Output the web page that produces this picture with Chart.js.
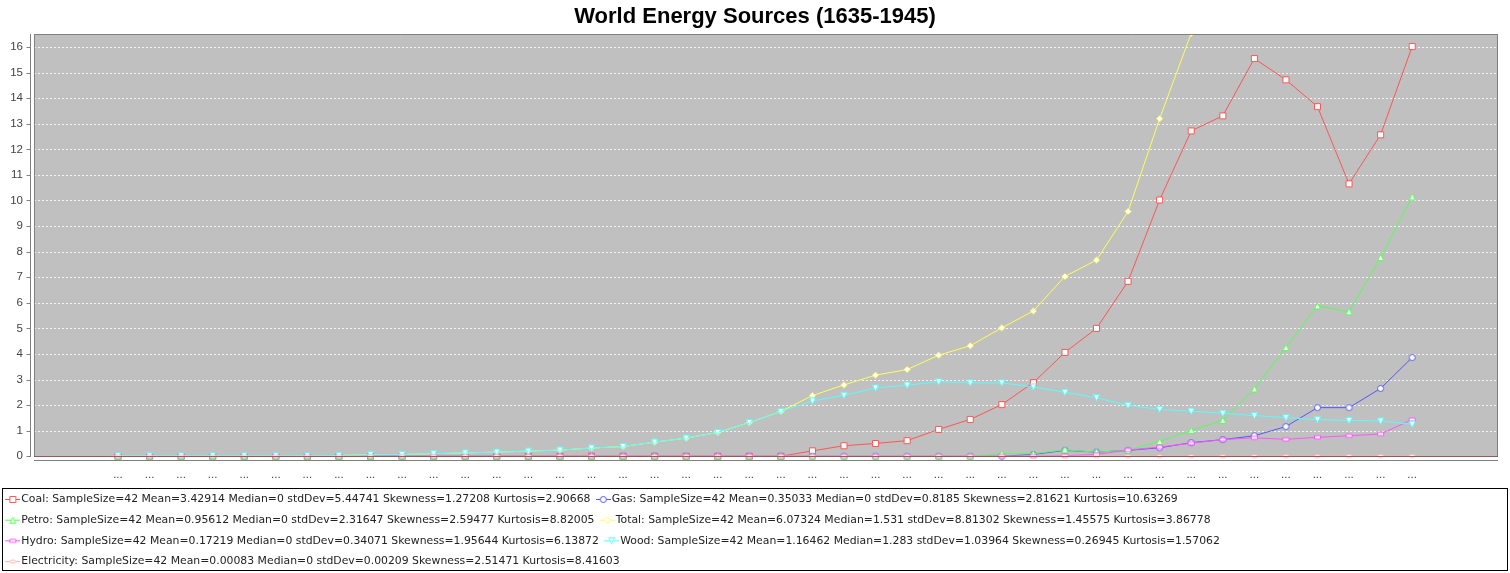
<!DOCTYPE html>
<html>
<head>
<meta charset="utf-8">
<script src="https://cdn.jsdelivr.net/npm/chart.js@4.4.1/dist/chart.umd.min.js"></script>
<style>
html,body{margin:0;padding:0;background:#fff;}
#wrap{width:1510px;height:573px;}
</style>
</head>
<body>
<div id="wrap"><canvas id="c" width="1510" height="573"></canvas></div>
<script>
// ---- data ----
const categories = ['...','...','...','...','...','...','...','...','...','...','...','...','...','...',
  '...','...','...','...','...','...','...','...','...','...','...','...','...','...',
  '...','...','...','...','...','...','...','...','...','...','...','...','...','...'];

const coal = [0,0,0,0,0,0,0,0,0,0,0,0,0,0,0,0,0,0,0,0,0,0,
  0.21,0.41,0.5,0.61,1.05,1.44,2.02,2.88,4.06,5.0,6.84,10.02,12.72,13.31,15.55,14.72,13.67,10.65,12.57,16.02];
const gas = [0,0,0,0,0,0,0,0,0,0,0,0,0,0,0,0,0,0,0,0,0,0,0,0,0,0,0,0,0,
  0.07,0.23,0.16,0.23,0.33,0.53,0.65,0.8,1.16,1.9,1.9,2.65,3.86];
const petro = [0,0,0,0,0,0,0,0,0,0,0,0,0,0,0,0,0,0,0,0,0,0,0,0,0,0,0,0,
  0.1,0.1,0.25,0.16,0.23,0.58,1.01,1.4,2.63,4.25,5.88,5.65,7.77,10.14];
const total = [0.02,0.02,0.02,0.02,0.02,0.02,0.02,0.03,
  0.06,0.07,0.1,0.13,0.16,0.2,0.24,0.32,0.38,0.55,0.71,0.93,1.316,
  1.75,2.37,2.79,3.17,3.39,3.95,4.32,5.02,5.68,7.03,7.67,9.57,13.2,16.53,17.69,21.29,22.3,23.62,20.4,25.24,32.7];
const hydro = [0,0,0,0,0,0,0,0,0,0,0,0,0,0,0,0,0,0,0,0,0,0,0,0,0,0,0,0,0,0,
  0.02,0.07,0.24,0.36,0.51,0.65,0.72,0.66,0.74,0.8,0.87,1.43];
const wood = [0.02,0.02,0.02,0.02,0.02,0.02,0.02,0.03,
  0.06,0.07,0.1,0.13,0.16,0.2,0.24,0.32,0.38,0.55,0.71,0.93,1.316,
  1.75,2.16,2.38,2.67,2.78,2.91,2.87,2.87,2.71,2.5,2.29,1.99,1.83,1.76,1.68,1.59,1.51,1.43,1.4,1.38,1.25];
const electricity = [0,0,0,0,0,0,0,0,0,0,0,0,0,0,0,0,0,0,0,0,0,0,0,0,0,0,0,0,0,0,0,0,0,
  0.0005,0.001,0.0015,0.002,0.003,0.004,0.005,0.007,0.011];

const seriesNames = ['Coal','Gas','Petro','Total','Hydro','Wood','Electricity'];
const legendTexts = [
  'Coal: SampleSize=42 Mean=3.42914 Median=0 stdDev=5.44741 Skewness=1.27208 Kurtosis=2.90668',
  'Gas: SampleSize=42 Mean=0.35033 Median=0 stdDev=0.8185 Skewness=2.81621 Kurtosis=10.63269',
  'Petro: SampleSize=42 Mean=0.95612 Median=0 stdDev=2.31647 Skewness=2.59477 Kurtosis=8.82005',
  'Total: SampleSize=42 Mean=6.07324 Median=1.531 stdDev=8.81302 Skewness=1.45575 Kurtosis=3.86778',
  'Hydro: SampleSize=42 Mean=0.17219 Median=0 stdDev=0.34071 Skewness=1.95644 Kurtosis=6.13872',
  'Wood: SampleSize=42 Mean=1.16462 Median=1.283 stdDev=1.03964 Skewness=0.26945 Kurtosis=1.57062',
  'Electricity: SampleSize=42 Mean=0.00083 Median=0 stdDev=0.00209 Skewness=2.51471 Kurtosis=8.41603'
];
const yTicks = [0,1,2,3,4,5,6,7,8,9,10,11,12,13,14,15,16];
const chartTitle = 'World Energy Sources (1635-1945)';

// ---- styles ----
const seriesValues = [coal, gas, petro, total, hydro, wood, electricity];
const colors = ['#ff5555','#5555ff','#55ff55','#ffff55','#ff55ff','#55ffff','#ffafaf'];
const shapes = ['square','circle','triUp','diamond','hrect','triDown','hellipse'];

function makeMarker(shape, color, withLine) {
  const w = withLine ? 15 : 9, h = 9;
  const c = document.createElement('canvas');
  c.width = w; c.height = h;
  const g = c.getContext('2d');
  const cx = w / 2, cy = h / 2;
  if (withLine) {
    g.strokeStyle = color; g.lineWidth = 1;
    g.beginPath(); g.moveTo(0, cy); g.lineTo(w, cy); g.stroke();
  }
  g.beginPath();
  switch (shape) {
    case 'square': g.rect(cx - 3, cy - 3, 6, 6); break;
    case 'circle': g.arc(cx, cy, 3, 0, Math.PI * 2); break;
    case 'triUp': g.moveTo(cx, cy - 3); g.lineTo(cx + 3, cy + 3); g.lineTo(cx - 3, cy + 3); g.closePath(); break;
    case 'diamond': g.moveTo(cx, cy - 3); g.lineTo(cx + 3, cy); g.lineTo(cx, cy + 3); g.lineTo(cx - 3, cy); g.closePath(); break;
    case 'hrect': g.rect(cx - 3, cy - 1.5, 6, 3); break;
    case 'triDown': g.moveTo(cx - 3, cy - 3); g.lineTo(cx + 3, cy - 3); g.lineTo(cx, cy + 3); g.closePath(); break;
    case 'hellipse': g.ellipse(cx, cy, 3, 1.5, 0, 0, Math.PI * 2); break;
  }
  g.fillStyle = '#ffffff'; g.fill();
  g.strokeStyle = color; g.lineWidth = 1; g.stroke();
  return c;
}
const pointImgs = shapes.map((s, i) => makeMarker(s, colors[i], false));
const legendImgs = shapes.map((s, i) => makeMarker(s, colors[i], true));

const datasets = seriesNames.map((name, i) => ({
  label: legendTexts[i],
  data: seriesValues[i].map((v, j) => ({x: j, y: v})),
  borderColor: colors[i],
  backgroundColor: colors[i],
  borderWidth: 1,
  pointStyle: pointImgs[i],
  pointRadius: 3.5,
  pointHoverRadius: 3.5,
  tension: 0,
  order: seriesNames.length - 1 - i,
  clip: {left: 8, right: 8, top: 0, bottom: 8}
}));

const tickFont = {family: 'Liberation Sans', size: 11.5};

const decoPlugin = {
  id: 'deco',
  beforeDraw(chart) {
    const {ctx, chartArea: a} = chart;
    ctx.save();
    ctx.fillStyle = '#ffffff';
    ctx.fillRect(0, 0, chart.width, chart.height);
    ctx.fillStyle = '#c0c0c0';
    ctx.fillRect(a.left, a.top, a.right - a.left, a.bottom - a.top);
    const ys = chart.scales.y;
    ctx.strokeStyle = 'rgba(255,255,255,0.8)';
    ctx.lineWidth = 1;
    ctx.setLineDash([2, 2]);
    yTicks.forEach(v => {
      const py = Math.round(ys.getPixelForValue(v)) + 0.5;
      if (py < a.top || py > a.bottom) return;
      ctx.beginPath(); ctx.moveTo(a.left, py); ctx.lineTo(a.right, py); ctx.stroke();
    });
    ctx.restore();
  },
  afterDatasetsDraw(chart) {
    const {ctx, chartArea: a} = chart;
    const ys = chart.scales.y;
    ctx.save();
    ctx.lineWidth = 1;
    ctx.strokeStyle = '#808080';
    ctx.beginPath();
    ctx.moveTo(a.left + 0.5, a.bottom); ctx.lineTo(a.left + 0.5, a.top + 0.5);
    ctx.lineTo(a.right - 0.5, a.top + 0.5); ctx.lineTo(a.right - 0.5, a.bottom);
    ctx.stroke();
    ctx.strokeStyle = '#965a5a';
    ctx.beginPath(); ctx.moveTo(a.left, a.bottom - 0.5); ctx.lineTo(a.right, a.bottom - 0.5); ctx.stroke();
    // range axis line + tick marks
    ctx.strokeStyle = '#808080';
    const ax = a.left - 3.5;
    ctx.beginPath(); ctx.moveTo(ax, a.top); ctx.lineTo(ax, a.bottom); ctx.stroke();
    yTicks.forEach(v => {
      const py = Math.round(ys.getPixelForValue(v)) + 0.5;
      ctx.beginPath(); ctx.moveTo(ax - 4, py); ctx.lineTo(ax, py); ctx.stroke();
    });
    // category axis line
    const ay = a.bottom + 3.5;
    ctx.beginPath(); ctx.moveTo(a.left, ay); ctx.lineTo(a.right, ay); ctx.stroke();
    ctx.restore();
  },
  afterDraw(chart) {
    const {ctx} = chart;
    const lg = chart.legend;
    ctx.save();
    ctx.strokeStyle = '#000000';
    ctx.lineWidth = 1;
    const top = Math.round(lg.top + 4) + 0.5;
    const bottom = Math.round(lg.bottom - 7) + 0.5;
    ctx.strokeRect(2.5, top, chart.width - 5, bottom - top);
    ctx.restore();
  }
};

new Chart(document.getElementById('c'), {
  type: 'line',
  data: {datasets},
  plugins: [decoPlugin],
  options: {
    responsive: false,
    animation: false,
    devicePixelRatio: 1,
    events: [],
    layout: {padding: {left: 0, right: 0, top: 0, bottom: -4}},
    plugins: {
      title: {
        display: true, text: chartTitle, color: '#000000',
        font: {family: 'Liberation Sans', size: 22, weight: 'bold', lineHeight: 1.2},
        padding: {top: 3.4, bottom: 4.2}
      },
      legend: {
        display: true, position: 'bottom', align: 'start',
        labels: {
          usePointStyle: true, pointStyleWidth: 6,
          font: {family: 'DejaVu Sans', size: 10.85},
          color: '#222222', padding: 9.85,
          generateLabels(chart) {
            return chart.data.datasets.map((d, i) => ({
              text: d.label, pointStyle: legendImgs[i], fillStyle: colors[i],
              strokeStyle: colors[i], lineWidth: 1, hidden: false, datasetIndex: i,
              fontColor: '#222222'
            }));
          }
        }
      },
      tooltip: {enabled: false}
    },
    scales: {
      x: {
        type: 'linear', min: -2.66, max: 43.72,
        grid: {display: false, drawTicks: false},
        border: {display: false},
        afterBuildTicks(s) { s.ticks = categories.map((c, i) => ({value: i})); },
        afterFit(s) { s.height = 27.2; },
        ticks: {
          autoSkip: false, maxRotation: 0, minRotation: 0, padding: 11,
          font: tickFont, color: '#444444',
          callback: (v) => categories[v]
        }
      },
      y: {
        type: 'linear', min: -0.03, max: 16.51,
        grid: {display: false, drawTicks: false},
        border: {display: false},
        afterBuildTicks(s) { s.ticks = yTicks.map(v => ({value: v})); },
        afterFit(s) { s.width = 34; },
        ticks: {
          padding: 11, font: tickFont, color: '#444444',
          callback: (v) => String(v)
        }
      },
      yRightSpacer: {
        type: 'linear', position: 'right', min: 0, max: 1,
        display: true,
        grid: {display: false, drawTicks: false},
        border: {display: false},
        ticks: {display: false},
        afterFit(s) { s.width = 12; }
      }
    }
  }
});
</script>
</body>
</html>
